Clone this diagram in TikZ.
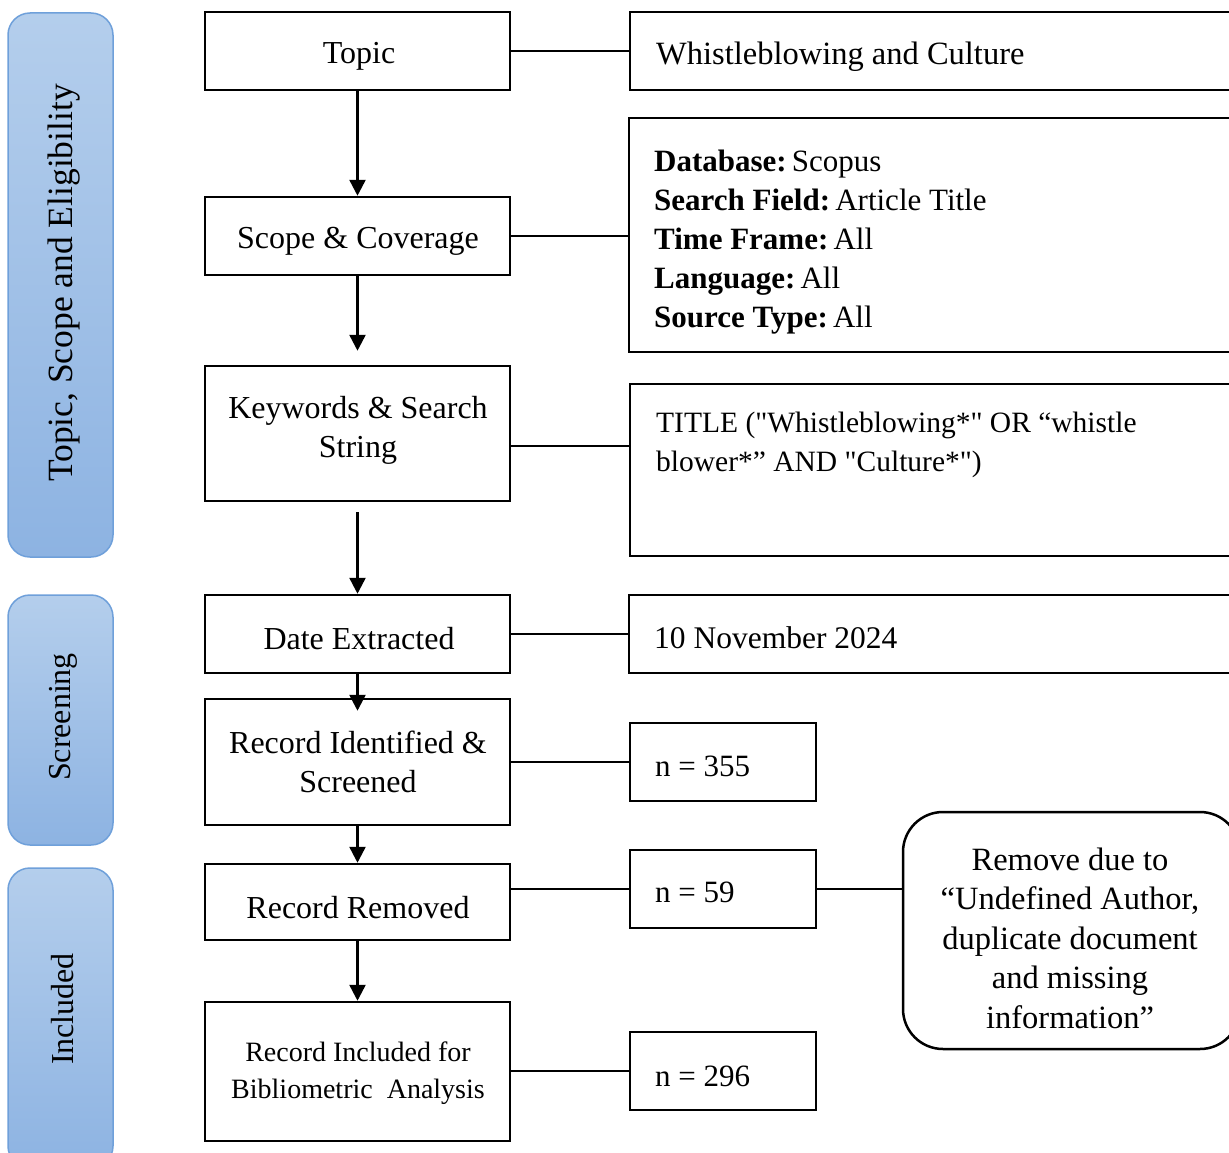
\documentclass[tikz,border=0pt]{standalone}
\usepackage{fontspec}
\setmainfont{Liberation Serif}[Ligatures=TeXOff]
\usetikzlibrary{arrows.meta}
\definecolor{bartop}{HTML}{B4CEEC}
\definecolor{barbot}{HTML}{8DB3E2}
\definecolor{barborder}{HTML}{6FA0DA}
\begin{document}
\begin{tikzpicture}[x=1pt,y=-1pt]
\tikzset{
 box/.style={draw, line width=2.5pt},
 lbl/.style={font=\fontsize{32}{39}\selectfont, align=center, inner sep=0pt},
 txt/.style={font=\fontsize{31}{39}\selectfont, align=left, inner sep=0pt, anchor=west},
 bar/.style={draw=barborder, line width=1.5pt, rounded corners=22pt, top color=bartop, bottom color=barbot, minimum width=105pt},
 bartxt/.style={rotate=90, inner sep=0pt, font=\fontsize{32}{38}\selectfont},
 arr/.style={line width=2.5pt, -{Triangle[length=16pt,width=16pt]}},
 ln/.style={line width=2.5pt},
 cbox/.style={box, minimum width=305pt},
 nbox/.style={box, minimum width=186pt, minimum height=78pt},
}
\useasboundingbox (0,0) rectangle (1229,1153);
\clip (0,0) rectangle (1229,1153);

% side bars
\node[bar, minimum height=544pt] (bar1) at (60.5,285) {};
\node[bartxt, font=\fontsize{35.5}{40}\selectfont] (bar1t) at (64,283) {Topic, Scope and Eligibility};
\node[bar, minimum height=250pt] (bar2) at (60.5,720) {};
\node[bartxt] (bar2t) at (63,717) {Screening};
\node[bar, minimum height=300pt] (bar3) at (60.5,1018) {};
\node[bartxt] (bar3t) at (63,1009) {Included};

% central boxes
\node[cbox, minimum height=78pt] (topic) at (357.5,51) {};
\node[lbl] (topict) at (359,56) {Topic};
\node[cbox, minimum height=78pt] (scope) at (357.5,236) {};
\node[lbl] (scopet) at (358,241) {Scope \& Coverage};
\node[cbox, minimum height=135pt] (kw) at (357.5,433.5) {};
\node[lbl] (kwt) at (358,430) {Keywords \& Search\\String};
\node[cbox, minimum height=78pt] (date) at (357.5,634) {};
\node[lbl] (datet) at (359,639) {Date Extracted};
\node[cbox, minimum height=126pt] (rid) at (357.5,762) {};
\node[lbl] (ridt) at (358,762) {Record Identified \&\\Screened};
\node[cbox, minimum height=76pt] (rrem) at (357.5,902) {};
\node[lbl] (rremt) at (358,908) {Record Removed};
\node[cbox, minimum height=139pt] (rinc) at (357.5,1071.5) {};
\node[lbl, font=\fontsize{28}{37}\selectfont] (rinct) at (358,1073) {Record Included for\\Bibliometric\ \ Analysis};

% right boxes
\node[box, minimum width=610pt, minimum height=78pt] (wb) at (935,51) {};
\node[txt, font=\fontsize{32.5}{39}\selectfont] (wbt) at (656,57) {Whistleblowing and Culture};
\node[box, minimum width=611pt, minimum height=234pt] (db) at (934.5,235) {};
\node[txt] (dbt) at (654,242) {\textbf{Database:}\,Scopus\\\textbf{Search Field:}\,Article Title\\\textbf{Time Frame:}\,All\\\textbf{Language:}\,All\\\textbf{Source Type:}\,All};
\node[box, minimum width=610pt, minimum height=172pt] (ti) at (935,470) {};
\node[txt, font=\fontsize{29.5}{39}\selectfont] (tit) at (656,445) {TITLE ("Whistleblowing*" OR “whistle\\blower*” AND "Culture*")};
\node[box, minimum width=611pt, minimum height=78pt] (dt) at (934.5,634) {};
\node[txt, font=\fontsize{31.5}{39}\selectfont] (dtt) at (654,638) {10 November 2024};
\node[nbox] (n1) at (723,762) {};
\node[txt] (n1t) at (655,766) {n = 355};
\node[nbox] (n2) at (723,889) {};
\node[txt] (n2t) at (655,892) {n = 59};
\node[nbox] (n3) at (723,1071) {};
\node[txt] (n3t) at (655,1076) {n = 296};
\node[box, rounded corners=40pt, minimum width=337pt, minimum height=237pt] (rm) at (1071.5,930.5) {};
\node[lbl, font=\fontsize{32.5}{39.5}\selectfont] (rmt) at (1070,938) {Remove due to\\“Undefined Author,\\duplicate document\\and missing\\information”};

% connectors
\draw[ln] (topic.east) -- (wb.west);
\draw[ln] (scope.east) -- (db.west |- scope.east);
\draw[ln] (kw.east |- 0,446) -- (ti.west |- 0,446);
\draw[ln] (date.east) -- (dt.west);
\draw[ln] (rid.east) -- (n1.west);
\draw[ln] (rrem.east |- n2.west) -- (n2.west);
\draw[ln] (n2.east) -- (rm.west |- n2.east);
\draw[ln] (rinc.east |- n3.west) -- (n3.west);

% arrows
\draw[arr] (topic.south) -- (scope.north);
\draw[arr] (scope.south) -- ([yshift=14pt]kw.north);
\draw[arr] ([yshift=-10pt]kw.south) -- (date.north);
\draw[arr] (date.south) -- ([yshift=-13pt]rid.north);
\draw[arr] (rid.south) -- (rrem.north);
\draw[arr] (rrem.south) -- (rinc.north);
\end{tikzpicture}
\end{document}
